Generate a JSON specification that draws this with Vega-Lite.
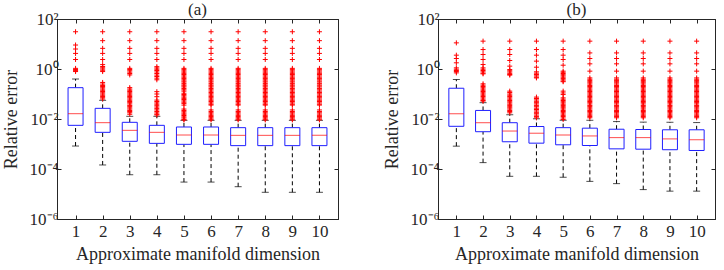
{
"$schema":"https://vega.github.io/schema/vega-lite/v6.json",
"background":"white",
"padding":{"left":1,"top":0,"right":0,"bottom":0},
"spacing":43,
"config":{
"font":"Liberation Serif",
"view":{"stroke":"#262626","strokeWidth":1},
"axis":{"labelFont":"Liberation Serif","titleFont":"Liberation Serif","labelFontSize":17,"titleFontSize":18,"titleFontWeight":"normal","labelColor":"#262626","titleColor":"#262626","domainColor":"#262626","tickColor":"#262626","grid":false,"labelFlush":false,"labelOverlap":false},
"title":{"font":"Liberation Serif","fontSize":17,"fontWeight":"normal","color":"#262626","offset":-9}
},
"datasets":{
"boxes":[
{"panel":"a","dim":1,"lo":0.00083,"q1":0.00558,"med":0.0163,"q3":0.179,"hi":0.398},
{"panel":"a","dim":2,"lo":0.000145,"q1":0.00293,"med":0.00713,"q3":0.0267,"hi":0.0559},
{"panel":"a","dim":3,"lo":0.000059,"q1":0.00128,"med":0.00352,"q3":0.00736,"hi":0.0128},
{"panel":"a","dim":4,"lo":0.000059,"q1":0.00106,"med":0.00293,"q3":0.00558,"hi":0.0128},
{"panel":"a","dim":5,"lo":0.00003,"q1":0.00097,"med":0.00229,"q3":0.00479,"hi":0.00885},
{"panel":"a","dim":6,"lo":0.00003,"q1":0.00097,"med":0.00229,"q3":0.00479,"hi":0.00885},
{"panel":"a","dim":7,"lo":0.0000196,"q1":0.00086,"med":0.00222,"q3":0.0045,"hi":0.00885},
{"panel":"a","dim":8,"lo":0.0000117,"q1":0.00086,"med":0.00222,"q3":0.0045,"hi":0.00885},
{"panel":"a","dim":9,"lo":0.0000117,"q1":0.00086,"med":0.00222,"q3":0.0045,"hi":0.00885},
{"panel":"a","dim":10,"lo":0.0000117,"q1":0.00086,"med":0.00222,"q3":0.0045,"hi":0.00885},
{"panel":"b","dim":1,"lo":0.00082,"q1":0.0051,"med":0.0162,"q3":0.17,"hi":0.38},
{"panel":"b","dim":2,"lo":0.00018,"q1":0.0031,"med":0.0071,"q3":0.022,"hi":0.045},
{"panel":"b","dim":3,"lo":0.000051,"q1":0.00123,"med":0.0033,"q3":0.0071,"hi":0.0148},
{"panel":"b","dim":4,"lo":0.000051,"q1":0.00108,"med":0.0027,"q3":0.005,"hi":0.0102},
{"panel":"b","dim":5,"lo":0.000047,"q1":0.00093,"med":0.0023,"q3":0.0045,"hi":0.0089},
{"panel":"b","dim":6,"lo":0.000032,"q1":0.00087,"med":0.0021,"q3":0.0043,"hi":0.0089},
{"panel":"b","dim":7,"lo":0.000026,"q1":0.00064,"med":0.0018,"q3":0.0039,"hi":0.0079},
{"panel":"b","dim":8,"lo":0.000015,"q1":0.00062,"med":0.0018,"q3":0.0038,"hi":0.0075},
{"panel":"b","dim":9,"lo":0.000013,"q1":0.00059,"med":0.0016,"q3":0.0037,"hi":0.0074},
{"panel":"b","dim":10,"lo":0.000013,"q1":0.00055,"med":0.00148,"q3":0.0037,"hi":0.0072}
],
"outliers":[
{"panel":"a","dim":1,"error":30.9},{"panel":"a","dim":1,"error":9.1},{"panel":"a","dim":1,"error":6.3},{"panel":"a","dim":1,"error":4.2},{"panel":"a","dim":1,"error":2.4},{"panel":"a","dim":1,"error":1.06},{"panel":"a","dim":1,"error":0.95},{"panel":"a","dim":1,"error":0.89},{"panel":"a","dim":1,"error":0.84},{"panel":"a","dim":1,"error":0.79},
{"panel":"a","dim":2,"error":30.9},{"panel":"a","dim":2,"error":13.6},{"panel":"a","dim":2,"error":6.7},{"panel":"a","dim":2,"error":4.2},{"panel":"a","dim":2,"error":2.4},{"panel":"a","dim":2,"error":1.5},{"panel":"a","dim":2,"error":1.26},{"panel":"a","dim":2,"error":1.12},{"panel":"a","dim":2,"error":1},{"panel":"a","dim":2,"error":0.89},{"panel":"a","dim":2,"error":0.79},{"panel":"a","dim":2,"error":0.29},{"panel":"a","dim":2,"error":0.25},{"panel":"a","dim":2,"error":0.22},{"panel":"a","dim":2,"error":0.2},{"panel":"a","dim":2,"error":0.178},{"panel":"a","dim":2,"error":0.158},{"panel":"a","dim":2,"error":0.141},{"panel":"a","dim":2,"error":0.126},{"panel":"a","dim":2,"error":0.112},{"panel":"a","dim":2,"error":0.1},{"panel":"a","dim":2,"error":0.089},{"panel":"a","dim":2,"error":0.079},{"panel":"a","dim":2,"error":0.071},{"panel":"a","dim":2,"error":0.063},
{"panel":"a","dim":3,"error":30.9},{"panel":"a","dim":3,"error":13.6},{"panel":"a","dim":3,"error":6.7},{"panel":"a","dim":3,"error":4.2},{"panel":"a","dim":3,"error":2.4},{"panel":"a","dim":3,"error":1.06},{"panel":"a","dim":3,"error":0.95},{"panel":"a","dim":3,"error":0.85},{"panel":"a","dim":3,"error":0.75},{"panel":"a","dim":3,"error":0.66},{"panel":"a","dim":3,"error":0.58},{"panel":"a","dim":3,"error":0.18},{"panel":"a","dim":3,"error":0.158},{"panel":"a","dim":3,"error":0.141},{"panel":"a","dim":3,"error":0.126},{"panel":"a","dim":3,"error":0.112},{"panel":"a","dim":3,"error":0.1},{"panel":"a","dim":3,"error":0.089},{"panel":"a","dim":3,"error":0.079},{"panel":"a","dim":3,"error":0.071},{"panel":"a","dim":3,"error":0.063},{"panel":"a","dim":3,"error":0.056},{"panel":"a","dim":3,"error":0.05},{"panel":"a","dim":3,"error":0.045},{"panel":"a","dim":3,"error":0.04},{"panel":"a","dim":3,"error":0.035},{"panel":"a","dim":3,"error":0.032},{"panel":"a","dim":3,"error":0.028},{"panel":"a","dim":3,"error":0.025},{"panel":"a","dim":3,"error":0.022},{"panel":"a","dim":3,"error":0.02},{"panel":"a","dim":3,"error":0.0178},{"panel":"a","dim":3,"error":0.0155},
{"panel":"a","dim":4,"error":30.9},{"panel":"a","dim":4,"error":13.6},{"panel":"a","dim":4,"error":6.7},{"panel":"a","dim":4,"error":4.2},{"panel":"a","dim":4,"error":2.4},{"panel":"a","dim":4,"error":1.24},{"panel":"a","dim":4,"error":1.1},{"panel":"a","dim":4,"error":0.98},{"panel":"a","dim":4,"error":0.87},{"panel":"a","dim":4,"error":0.76},{"panel":"a","dim":4,"error":0.66},{"panel":"a","dim":4,"error":0.57},{"panel":"a","dim":4,"error":0.5},{"panel":"a","dim":4,"error":0.43},{"panel":"a","dim":4,"error":0.37},{"panel":"a","dim":4,"error":0.124},{"panel":"a","dim":4,"error":0.1},{"panel":"a","dim":4,"error":0.078},{"panel":"a","dim":4,"error":0.057},{"panel":"a","dim":4,"error":0.05},{"panel":"a","dim":4,"error":0.044},{"panel":"a","dim":4,"error":0.039},{"panel":"a","dim":4,"error":0.034},{"panel":"a","dim":4,"error":0.03},{"panel":"a","dim":4,"error":0.026},{"panel":"a","dim":4,"error":0.023},{"panel":"a","dim":4,"error":0.02},{"panel":"a","dim":4,"error":0.0175},{"panel":"a","dim":4,"error":0.0155},{"panel":"a","dim":4,"error":0.0145},
{"panel":"a","dim":5,"error":30.9},{"panel":"a","dim":5,"error":13.6},{"panel":"a","dim":5,"error":6.7},{"panel":"a","dim":5,"error":4.2},{"panel":"a","dim":5,"error":2.4},{"panel":"a","dim":5,"error":1.06},{"panel":"a","dim":5,"error":0.94},{"panel":"a","dim":5,"error":0.84},{"panel":"a","dim":5,"error":0.75},{"panel":"a","dim":5,"error":0.67},{"panel":"a","dim":5,"error":0.6},{"panel":"a","dim":5,"error":0.53},{"panel":"a","dim":5,"error":0.47},{"panel":"a","dim":5,"error":0.42},{"panel":"a","dim":5,"error":0.37},{"panel":"a","dim":5,"error":0.33},{"panel":"a","dim":5,"error":0.3},{"panel":"a","dim":5,"error":0.26},{"panel":"a","dim":5,"error":0.23},{"panel":"a","dim":5,"error":0.21},{"panel":"a","dim":5,"error":0.19},{"panel":"a","dim":5,"error":0.165},{"panel":"a","dim":5,"error":0.147},{"panel":"a","dim":5,"error":0.13},{"panel":"a","dim":5,"error":0.107},{"panel":"a","dim":5,"error":0.095},{"panel":"a","dim":5,"error":0.085},{"panel":"a","dim":5,"error":0.075},{"panel":"a","dim":5,"error":0.067},{"panel":"a","dim":5,"error":0.06},{"panel":"a","dim":5,"error":0.053},{"panel":"a","dim":5,"error":0.047},{"panel":"a","dim":5,"error":0.042},{"panel":"a","dim":5,"error":0.036},{"panel":"a","dim":5,"error":0.025},{"panel":"a","dim":5,"error":0.022},{"panel":"a","dim":5,"error":0.0195},{"panel":"a","dim":5,"error":0.0173},{"panel":"a","dim":5,"error":0.0155},{"panel":"a","dim":5,"error":0.0138},{"panel":"a","dim":5,"error":0.0122},{"panel":"a","dim":5,"error":0.011},{"panel":"a","dim":5,"error":0.0097},{"panel":"a","dim":5,"error":0.0091},
{"panel":"a","dim":6,"error":30.9},{"panel":"a","dim":6,"error":13.6},{"panel":"a","dim":6,"error":6.7},{"panel":"a","dim":6,"error":4.2},{"panel":"a","dim":6,"error":2.4},{"panel":"a","dim":6,"error":1.06},{"panel":"a","dim":6,"error":0.94},{"panel":"a","dim":6,"error":0.84},{"panel":"a","dim":6,"error":0.75},{"panel":"a","dim":6,"error":0.67},{"panel":"a","dim":6,"error":0.6},{"panel":"a","dim":6,"error":0.53},{"panel":"a","dim":6,"error":0.47},{"panel":"a","dim":6,"error":0.42},{"panel":"a","dim":6,"error":0.37},{"panel":"a","dim":6,"error":0.33},{"panel":"a","dim":6,"error":0.3},{"panel":"a","dim":6,"error":0.26},{"panel":"a","dim":6,"error":0.23},{"panel":"a","dim":6,"error":0.21},{"panel":"a","dim":6,"error":0.19},{"panel":"a","dim":6,"error":0.165},{"panel":"a","dim":6,"error":0.147},{"panel":"a","dim":6,"error":0.13},{"panel":"a","dim":6,"error":0.115},{"panel":"a","dim":6,"error":0.102},{"panel":"a","dim":6,"error":0.09},{"panel":"a","dim":6,"error":0.08},{"panel":"a","dim":6,"error":0.071},{"panel":"a","dim":6,"error":0.063},{"panel":"a","dim":6,"error":0.056},{"panel":"a","dim":6,"error":0.05},{"panel":"a","dim":6,"error":0.044},{"panel":"a","dim":6,"error":0.039},{"panel":"a","dim":6,"error":0.036},{"panel":"a","dim":6,"error":0.023},{"panel":"a","dim":6,"error":0.02},{"panel":"a","dim":6,"error":0.0178},{"panel":"a","dim":6,"error":0.0158},{"panel":"a","dim":6,"error":0.014},{"panel":"a","dim":6,"error":0.0125},{"panel":"a","dim":6,"error":0.0112},{"panel":"a","dim":6,"error":0.01},{"panel":"a","dim":6,"error":0.0092},
{"panel":"a","dim":7,"error":30.9},{"panel":"a","dim":7,"error":13.6},{"panel":"a","dim":7,"error":6.7},{"panel":"a","dim":7,"error":4.2},{"panel":"a","dim":7,"error":2.4},{"panel":"a","dim":7,"error":1.06},{"panel":"a","dim":7,"error":0.94},{"panel":"a","dim":7,"error":0.84},{"panel":"a","dim":7,"error":0.75},{"panel":"a","dim":7,"error":0.67},{"panel":"a","dim":7,"error":0.6},{"panel":"a","dim":7,"error":0.53},{"panel":"a","dim":7,"error":0.47},{"panel":"a","dim":7,"error":0.42},{"panel":"a","dim":7,"error":0.37},{"panel":"a","dim":7,"error":0.33},{"panel":"a","dim":7,"error":0.3},{"panel":"a","dim":7,"error":0.26},{"panel":"a","dim":7,"error":0.23},{"panel":"a","dim":7,"error":0.21},{"panel":"a","dim":7,"error":0.19},{"panel":"a","dim":7,"error":0.165},{"panel":"a","dim":7,"error":0.147},{"panel":"a","dim":7,"error":0.13},{"panel":"a","dim":7,"error":0.115},{"panel":"a","dim":7,"error":0.102},{"panel":"a","dim":7,"error":0.09},{"panel":"a","dim":7,"error":0.08},{"panel":"a","dim":7,"error":0.071},{"panel":"a","dim":7,"error":0.063},{"panel":"a","dim":7,"error":0.056},{"panel":"a","dim":7,"error":0.05},{"panel":"a","dim":7,"error":0.044},{"panel":"a","dim":7,"error":0.039},{"panel":"a","dim":7,"error":0.036},{"panel":"a","dim":7,"error":0.023},{"panel":"a","dim":7,"error":0.02},{"panel":"a","dim":7,"error":0.0178},{"panel":"a","dim":7,"error":0.0158},{"panel":"a","dim":7,"error":0.014},{"panel":"a","dim":7,"error":0.0125},{"panel":"a","dim":7,"error":0.0112},{"panel":"a","dim":7,"error":0.01},{"panel":"a","dim":7,"error":0.0092},
{"panel":"a","dim":8,"error":30.9},{"panel":"a","dim":8,"error":13.6},{"panel":"a","dim":8,"error":6.7},{"panel":"a","dim":8,"error":4.2},{"panel":"a","dim":8,"error":2.4},{"panel":"a","dim":8,"error":1.06},{"panel":"a","dim":8,"error":0.94},{"panel":"a","dim":8,"error":0.84},{"panel":"a","dim":8,"error":0.75},{"panel":"a","dim":8,"error":0.67},{"panel":"a","dim":8,"error":0.6},{"panel":"a","dim":8,"error":0.53},{"panel":"a","dim":8,"error":0.47},{"panel":"a","dim":8,"error":0.42},{"panel":"a","dim":8,"error":0.37},{"panel":"a","dim":8,"error":0.33},{"panel":"a","dim":8,"error":0.3},{"panel":"a","dim":8,"error":0.26},{"panel":"a","dim":8,"error":0.23},{"panel":"a","dim":8,"error":0.21},{"panel":"a","dim":8,"error":0.19},{"panel":"a","dim":8,"error":0.165},{"panel":"a","dim":8,"error":0.147},{"panel":"a","dim":8,"error":0.13},{"panel":"a","dim":8,"error":0.115},{"panel":"a","dim":8,"error":0.102},{"panel":"a","dim":8,"error":0.09},{"panel":"a","dim":8,"error":0.08},{"panel":"a","dim":8,"error":0.071},{"panel":"a","dim":8,"error":0.063},{"panel":"a","dim":8,"error":0.056},{"panel":"a","dim":8,"error":0.05},{"panel":"a","dim":8,"error":0.044},{"panel":"a","dim":8,"error":0.039},{"panel":"a","dim":8,"error":0.036},{"panel":"a","dim":8,"error":0.023},{"panel":"a","dim":8,"error":0.02},{"panel":"a","dim":8,"error":0.0178},{"panel":"a","dim":8,"error":0.0158},{"panel":"a","dim":8,"error":0.014},{"panel":"a","dim":8,"error":0.0125},{"panel":"a","dim":8,"error":0.0112},{"panel":"a","dim":8,"error":0.01},{"panel":"a","dim":8,"error":0.0092},
{"panel":"a","dim":9,"error":30.9},{"panel":"a","dim":9,"error":13.6},{"panel":"a","dim":9,"error":6.7},{"panel":"a","dim":9,"error":4.2},{"panel":"a","dim":9,"error":2.4},{"panel":"a","dim":9,"error":1.06},{"panel":"a","dim":9,"error":0.94},{"panel":"a","dim":9,"error":0.84},{"panel":"a","dim":9,"error":0.75},{"panel":"a","dim":9,"error":0.67},{"panel":"a","dim":9,"error":0.6},{"panel":"a","dim":9,"error":0.53},{"panel":"a","dim":9,"error":0.47},{"panel":"a","dim":9,"error":0.42},{"panel":"a","dim":9,"error":0.37},{"panel":"a","dim":9,"error":0.33},{"panel":"a","dim":9,"error":0.3},{"panel":"a","dim":9,"error":0.26},{"panel":"a","dim":9,"error":0.23},{"panel":"a","dim":9,"error":0.21},{"panel":"a","dim":9,"error":0.19},{"panel":"a","dim":9,"error":0.165},{"panel":"a","dim":9,"error":0.147},{"panel":"a","dim":9,"error":0.13},{"panel":"a","dim":9,"error":0.115},{"panel":"a","dim":9,"error":0.102},{"panel":"a","dim":9,"error":0.09},{"panel":"a","dim":9,"error":0.08},{"panel":"a","dim":9,"error":0.071},{"panel":"a","dim":9,"error":0.063},{"panel":"a","dim":9,"error":0.056},{"panel":"a","dim":9,"error":0.05},{"panel":"a","dim":9,"error":0.044},{"panel":"a","dim":9,"error":0.039},{"panel":"a","dim":9,"error":0.036},{"panel":"a","dim":9,"error":0.023},{"panel":"a","dim":9,"error":0.02},{"panel":"a","dim":9,"error":0.0178},{"panel":"a","dim":9,"error":0.0158},{"panel":"a","dim":9,"error":0.014},{"panel":"a","dim":9,"error":0.0125},{"panel":"a","dim":9,"error":0.0112},{"panel":"a","dim":9,"error":0.01},{"panel":"a","dim":9,"error":0.0092},
{"panel":"a","dim":10,"error":30.9},{"panel":"a","dim":10,"error":13.6},{"panel":"a","dim":10,"error":6.7},{"panel":"a","dim":10,"error":4.2},{"panel":"a","dim":10,"error":2.4},{"panel":"a","dim":10,"error":1.06},{"panel":"a","dim":10,"error":0.94},{"panel":"a","dim":10,"error":0.84},{"panel":"a","dim":10,"error":0.75},{"panel":"a","dim":10,"error":0.67},{"panel":"a","dim":10,"error":0.6},{"panel":"a","dim":10,"error":0.53},{"panel":"a","dim":10,"error":0.47},{"panel":"a","dim":10,"error":0.42},{"panel":"a","dim":10,"error":0.37},{"panel":"a","dim":10,"error":0.33},{"panel":"a","dim":10,"error":0.3},{"panel":"a","dim":10,"error":0.26},{"panel":"a","dim":10,"error":0.23},{"panel":"a","dim":10,"error":0.21},{"panel":"a","dim":10,"error":0.19},{"panel":"a","dim":10,"error":0.165},{"panel":"a","dim":10,"error":0.147},{"panel":"a","dim":10,"error":0.13},{"panel":"a","dim":10,"error":0.115},{"panel":"a","dim":10,"error":0.102},{"panel":"a","dim":10,"error":0.09},{"panel":"a","dim":10,"error":0.08},{"panel":"a","dim":10,"error":0.071},{"panel":"a","dim":10,"error":0.063},{"panel":"a","dim":10,"error":0.056},{"panel":"a","dim":10,"error":0.05},{"panel":"a","dim":10,"error":0.044},{"panel":"a","dim":10,"error":0.039},{"panel":"a","dim":10,"error":0.036},{"panel":"a","dim":10,"error":0.023},{"panel":"a","dim":10,"error":0.02},{"panel":"a","dim":10,"error":0.0178},{"panel":"a","dim":10,"error":0.0158},{"panel":"a","dim":10,"error":0.014},{"panel":"a","dim":10,"error":0.0125},{"panel":"a","dim":10,"error":0.0112},{"panel":"a","dim":10,"error":0.01},{"panel":"a","dim":10,"error":0.0092},
{"panel":"b","dim":1,"error":11.1},{"panel":"b","dim":1,"error":3.57},{"panel":"b","dim":1,"error":2.63},{"panel":"b","dim":1,"error":1.77},{"panel":"b","dim":1,"error":1.11},{"panel":"b","dim":1,"error":0.98},{"panel":"b","dim":1,"error":0.87},{"panel":"b","dim":1,"error":0.79},{"panel":"b","dim":1,"error":0.7},
{"panel":"b","dim":2,"error":13},{"panel":"b","dim":2,"error":6},{"panel":"b","dim":2,"error":3.8},{"panel":"b","dim":2,"error":2.4},{"panel":"b","dim":2,"error":1.51},{"panel":"b","dim":2,"error":1.11},{"panel":"b","dim":2,"error":0.98},{"panel":"b","dim":2,"error":0.87},{"panel":"b","dim":2,"error":0.77},{"panel":"b","dim":2,"error":0.68},{"panel":"b","dim":2,"error":0.64},{"panel":"b","dim":2,"error":0.255},{"panel":"b","dim":2,"error":0.225},{"panel":"b","dim":2,"error":0.2},{"panel":"b","dim":2,"error":0.178},{"panel":"b","dim":2,"error":0.158},{"panel":"b","dim":2,"error":0.141},{"panel":"b","dim":2,"error":0.126},{"panel":"b","dim":2,"error":0.112},{"panel":"b","dim":2,"error":0.1},{"panel":"b","dim":2,"error":0.089},{"panel":"b","dim":2,"error":0.079},{"panel":"b","dim":2,"error":0.07},{"panel":"b","dim":2,"error":0.062},{"panel":"b","dim":2,"error":0.055},{"panel":"b","dim":2,"error":0.052},
{"panel":"b","dim":3,"error":13},{"panel":"b","dim":3,"error":6},{"panel":"b","dim":3,"error":3.8},{"panel":"b","dim":3,"error":2.19},{"panel":"b","dim":3,"error":1.3},{"panel":"b","dim":3,"error":0.95},{"panel":"b","dim":3,"error":0.85},{"panel":"b","dim":3,"error":0.76},{"panel":"b","dim":3,"error":0.67},{"panel":"b","dim":3,"error":0.6},{"panel":"b","dim":3,"error":0.57},{"panel":"b","dim":3,"error":0.13},{"panel":"b","dim":3,"error":0.115},{"panel":"b","dim":3,"error":0.1},{"panel":"b","dim":3,"error":0.089},{"panel":"b","dim":3,"error":0.079},{"panel":"b","dim":3,"error":0.07},{"panel":"b","dim":3,"error":0.062},{"panel":"b","dim":3,"error":0.055},{"panel":"b","dim":3,"error":0.049},{"panel":"b","dim":3,"error":0.044},{"panel":"b","dim":3,"error":0.039},{"panel":"b","dim":3,"error":0.035},{"panel":"b","dim":3,"error":0.031},{"panel":"b","dim":3,"error":0.028},{"panel":"b","dim":3,"error":0.025},{"panel":"b","dim":3,"error":0.022},{"panel":"b","dim":3,"error":0.02},{"panel":"b","dim":3,"error":0.0177},
{"panel":"b","dim":4,"error":13},{"panel":"b","dim":4,"error":6},{"panel":"b","dim":4,"error":3.57},{"panel":"b","dim":4,"error":2.06},{"panel":"b","dim":4,"error":1.18},{"panel":"b","dim":4,"error":0.77},{"panel":"b","dim":4,"error":0.68},{"panel":"b","dim":4,"error":0.6},{"panel":"b","dim":4,"error":0.53},{"panel":"b","dim":4,"error":0.47},{"panel":"b","dim":4,"error":0.44},{"panel":"b","dim":4,"error":0.075},{"panel":"b","dim":4,"error":0.066},{"panel":"b","dim":4,"error":0.058},{"panel":"b","dim":4,"error":0.051},{"panel":"b","dim":4,"error":0.045},{"panel":"b","dim":4,"error":0.04},{"panel":"b","dim":4,"error":0.035},{"panel":"b","dim":4,"error":0.031},{"panel":"b","dim":4,"error":0.027},{"panel":"b","dim":4,"error":0.024},{"panel":"b","dim":4,"error":0.021},{"panel":"b","dim":4,"error":0.0185},{"panel":"b","dim":4,"error":0.0163},{"panel":"b","dim":4,"error":0.0143},{"panel":"b","dim":4,"error":0.0125},{"panel":"b","dim":4,"error":0.0111},
{"panel":"b","dim":5,"error":13},{"panel":"b","dim":5,"error":6},{"panel":"b","dim":5,"error":3.57},{"panel":"b","dim":5,"error":2.4},{"panel":"b","dim":5,"error":1.42},{"panel":"b","dim":5,"error":0.82},{"panel":"b","dim":5,"error":0.74},{"panel":"b","dim":5,"error":0.66},{"panel":"b","dim":5,"error":0.59},{"panel":"b","dim":5,"error":0.53},{"panel":"b","dim":5,"error":0.47},{"panel":"b","dim":5,"error":0.42},{"panel":"b","dim":5,"error":0.37},{"panel":"b","dim":5,"error":0.33},{"panel":"b","dim":5,"error":0.31},{"panel":"b","dim":5,"error":0.13},{"panel":"b","dim":5,"error":0.11},{"panel":"b","dim":5,"error":0.095},{"panel":"b","dim":5,"error":0.07},{"panel":"b","dim":5,"error":0.062},{"panel":"b","dim":5,"error":0.055},{"panel":"b","dim":5,"error":0.049},{"panel":"b","dim":5,"error":0.044},{"panel":"b","dim":5,"error":0.039},{"panel":"b","dim":5,"error":0.035},{"panel":"b","dim":5,"error":0.031},{"panel":"b","dim":5,"error":0.028},{"panel":"b","dim":5,"error":0.025},{"panel":"b","dim":5,"error":0.022},{"panel":"b","dim":5,"error":0.02},{"panel":"b","dim":5,"error":0.0178},{"panel":"b","dim":5,"error":0.0158},{"panel":"b","dim":5,"error":0.014},{"panel":"b","dim":5,"error":0.0125},{"panel":"b","dim":5,"error":0.011},{"panel":"b","dim":5,"error":0.0096},
{"panel":"b","dim":6,"error":13},{"panel":"b","dim":6,"error":4.4},{"panel":"b","dim":6,"error":2.63},{"panel":"b","dim":6,"error":1.61},{"panel":"b","dim":6,"error":0.82},{"panel":"b","dim":6,"error":0.44},{"panel":"b","dim":6,"error":0.39},{"panel":"b","dim":6,"error":0.35},{"panel":"b","dim":6,"error":0.31},{"panel":"b","dim":6,"error":0.28},{"panel":"b","dim":6,"error":0.25},{"panel":"b","dim":6,"error":0.22},{"panel":"b","dim":6,"error":0.2},{"panel":"b","dim":6,"error":0.178},{"panel":"b","dim":6,"error":0.158},{"panel":"b","dim":6,"error":0.141},{"panel":"b","dim":6,"error":0.126},{"panel":"b","dim":6,"error":0.112},{"panel":"b","dim":6,"error":0.1},{"panel":"b","dim":6,"error":0.089},{"panel":"b","dim":6,"error":0.079},{"panel":"b","dim":6,"error":0.071},{"panel":"b","dim":6,"error":0.063},{"panel":"b","dim":6,"error":0.056},{"panel":"b","dim":6,"error":0.05},{"panel":"b","dim":6,"error":0.045},{"panel":"b","dim":6,"error":0.04},{"panel":"b","dim":6,"error":0.035},{"panel":"b","dim":6,"error":0.032},{"panel":"b","dim":6,"error":0.028},{"panel":"b","dim":6,"error":0.025},{"panel":"b","dim":6,"error":0.022},{"panel":"b","dim":6,"error":0.02},{"panel":"b","dim":6,"error":0.0178},{"panel":"b","dim":6,"error":0.0158},{"panel":"b","dim":6,"error":0.0141},{"panel":"b","dim":6,"error":0.0125},{"panel":"b","dim":6,"error":0.0112},
{"panel":"b","dim":7,"error":13},{"panel":"b","dim":7,"error":4.4},{"panel":"b","dim":7,"error":2.63},{"panel":"b","dim":7,"error":1.61},{"panel":"b","dim":7,"error":0.82},{"panel":"b","dim":7,"error":0.44},{"panel":"b","dim":7,"error":0.39},{"panel":"b","dim":7,"error":0.35},{"panel":"b","dim":7,"error":0.31},{"panel":"b","dim":7,"error":0.28},{"panel":"b","dim":7,"error":0.25},{"panel":"b","dim":7,"error":0.22},{"panel":"b","dim":7,"error":0.2},{"panel":"b","dim":7,"error":0.178},{"panel":"b","dim":7,"error":0.158},{"panel":"b","dim":7,"error":0.141},{"panel":"b","dim":7,"error":0.126},{"panel":"b","dim":7,"error":0.112},{"panel":"b","dim":7,"error":0.1},{"panel":"b","dim":7,"error":0.089},{"panel":"b","dim":7,"error":0.079},{"panel":"b","dim":7,"error":0.071},{"panel":"b","dim":7,"error":0.063},{"panel":"b","dim":7,"error":0.056},{"panel":"b","dim":7,"error":0.05},{"panel":"b","dim":7,"error":0.045},{"panel":"b","dim":7,"error":0.04},{"panel":"b","dim":7,"error":0.035},{"panel":"b","dim":7,"error":0.032},{"panel":"b","dim":7,"error":0.028},{"panel":"b","dim":7,"error":0.025},{"panel":"b","dim":7,"error":0.022},{"panel":"b","dim":7,"error":0.02},{"panel":"b","dim":7,"error":0.0178},{"panel":"b","dim":7,"error":0.0158},{"panel":"b","dim":7,"error":0.0141},{"panel":"b","dim":7,"error":0.0125},{"panel":"b","dim":7,"error":0.0112},
{"panel":"b","dim":8,"error":13},{"panel":"b","dim":8,"error":4.4},{"panel":"b","dim":8,"error":2.63},{"panel":"b","dim":8,"error":1.61},{"panel":"b","dim":8,"error":0.82},{"panel":"b","dim":8,"error":0.44},{"panel":"b","dim":8,"error":0.39},{"panel":"b","dim":8,"error":0.35},{"panel":"b","dim":8,"error":0.31},{"panel":"b","dim":8,"error":0.28},{"panel":"b","dim":8,"error":0.25},{"panel":"b","dim":8,"error":0.22},{"panel":"b","dim":8,"error":0.2},{"panel":"b","dim":8,"error":0.178},{"panel":"b","dim":8,"error":0.158},{"panel":"b","dim":8,"error":0.141},{"panel":"b","dim":8,"error":0.126},{"panel":"b","dim":8,"error":0.112},{"panel":"b","dim":8,"error":0.1},{"panel":"b","dim":8,"error":0.089},{"panel":"b","dim":8,"error":0.079},{"panel":"b","dim":8,"error":0.071},{"panel":"b","dim":8,"error":0.063},{"panel":"b","dim":8,"error":0.056},{"panel":"b","dim":8,"error":0.05},{"panel":"b","dim":8,"error":0.045},{"panel":"b","dim":8,"error":0.04},{"panel":"b","dim":8,"error":0.035},{"panel":"b","dim":8,"error":0.032},{"panel":"b","dim":8,"error":0.028},{"panel":"b","dim":8,"error":0.025},{"panel":"b","dim":8,"error":0.022},{"panel":"b","dim":8,"error":0.02},{"panel":"b","dim":8,"error":0.0178},{"panel":"b","dim":8,"error":0.0158},{"panel":"b","dim":8,"error":0.0141},{"panel":"b","dim":8,"error":0.0125},{"panel":"b","dim":8,"error":0.0112},
{"panel":"b","dim":9,"error":13},{"panel":"b","dim":9,"error":4.4},{"panel":"b","dim":9,"error":2.63},{"panel":"b","dim":9,"error":1.61},{"panel":"b","dim":9,"error":0.82},{"panel":"b","dim":9,"error":0.44},{"panel":"b","dim":9,"error":0.39},{"panel":"b","dim":9,"error":0.35},{"panel":"b","dim":9,"error":0.31},{"panel":"b","dim":9,"error":0.28},{"panel":"b","dim":9,"error":0.25},{"panel":"b","dim":9,"error":0.22},{"panel":"b","dim":9,"error":0.2},{"panel":"b","dim":9,"error":0.178},{"panel":"b","dim":9,"error":0.158},{"panel":"b","dim":9,"error":0.141},{"panel":"b","dim":9,"error":0.126},{"panel":"b","dim":9,"error":0.112},{"panel":"b","dim":9,"error":0.1},{"panel":"b","dim":9,"error":0.089},{"panel":"b","dim":9,"error":0.079},{"panel":"b","dim":9,"error":0.071},{"panel":"b","dim":9,"error":0.063},{"panel":"b","dim":9,"error":0.056},{"panel":"b","dim":9,"error":0.05},{"panel":"b","dim":9,"error":0.045},{"panel":"b","dim":9,"error":0.04},{"panel":"b","dim":9,"error":0.035},{"panel":"b","dim":9,"error":0.032},{"panel":"b","dim":9,"error":0.028},{"panel":"b","dim":9,"error":0.025},{"panel":"b","dim":9,"error":0.022},{"panel":"b","dim":9,"error":0.02},{"panel":"b","dim":9,"error":0.0178},{"panel":"b","dim":9,"error":0.0158},{"panel":"b","dim":9,"error":0.0141},{"panel":"b","dim":9,"error":0.0125},{"panel":"b","dim":9,"error":0.0112},
{"panel":"b","dim":10,"error":13},{"panel":"b","dim":10,"error":4.4},{"panel":"b","dim":10,"error":2.63},{"panel":"b","dim":10,"error":1.61},{"panel":"b","dim":10,"error":0.82},{"panel":"b","dim":10,"error":0.44},{"panel":"b","dim":10,"error":0.39},{"panel":"b","dim":10,"error":0.35},{"panel":"b","dim":10,"error":0.31},{"panel":"b","dim":10,"error":0.28},{"panel":"b","dim":10,"error":0.25},{"panel":"b","dim":10,"error":0.22},{"panel":"b","dim":10,"error":0.2},{"panel":"b","dim":10,"error":0.178},{"panel":"b","dim":10,"error":0.158},{"panel":"b","dim":10,"error":0.141},{"panel":"b","dim":10,"error":0.126},{"panel":"b","dim":10,"error":0.112},{"panel":"b","dim":10,"error":0.1},{"panel":"b","dim":10,"error":0.089},{"panel":"b","dim":10,"error":0.079},{"panel":"b","dim":10,"error":0.071},{"panel":"b","dim":10,"error":0.063},{"panel":"b","dim":10,"error":0.056},{"panel":"b","dim":10,"error":0.05},{"panel":"b","dim":10,"error":0.045},{"panel":"b","dim":10,"error":0.04},{"panel":"b","dim":10,"error":0.035},{"panel":"b","dim":10,"error":0.032},{"panel":"b","dim":10,"error":0.028},{"panel":"b","dim":10,"error":0.025},{"panel":"b","dim":10,"error":0.022},{"panel":"b","dim":10,"error":0.02},{"panel":"b","dim":10,"error":0.0178},{"panel":"b","dim":10,"error":0.0158},{"panel":"b","dim":10,"error":0.0141},{"panel":"b","dim":10,"error":0.0125},{"panel":"b","dim":10,"error":0.0112}
]
},
"hconcat":[
{
"title":"(a)",
"width":281,"height":200,
"resolve":{"axis":{"x":"independent","y":"independent"}},
"layer":[
{"data":{"name":"boxes"},"transform":[{"filter":"datum.panel==='a'"}],
"mark":{"type":"rule","color":"black","strokeDash":[4,3],"strokeWidth":1},
"encoding":{
"x":{"field":"dim","type":"quantitative","scale":{"domain":[0.5,10.5],"nice":false,"zero":false},"axis":{"orient":"bottom","values":[1,2,3,4,5,6,7,8,9,10],"tickSize":-4,"labelPadding":8,"minExtent":22,"maxExtent":22,"title":"Approximate manifold dimension","titlePadding":4}},
"y":{"field":"lo","type":"quantitative","scale":{"type":"log","domain":[0.000001,100],"nice":false},"axis":{"orient":"left","values":[0.000001,0.0001,0.01,1,100],"tickSize":-4,"labelPadding":3,"minExtent":31,"maxExtent":31,"labelExpr":"datum.value>=50?'10²':datum.value>=0.5?'10⁰':datum.value>=0.005?'10⁻²':datum.value>=0.00005?'10⁻⁴':'10⁻⁶'","title":"Relative error","titlePadding":6}},
"y2":{"field":"q1"}}},
{"data":{"name":"boxes"},"transform":[{"filter":"datum.panel==='a'"}],
"mark":{"type":"rule","color":"black","strokeDash":[4,3],"strokeWidth":1},
"encoding":{
"x":{"field":"dim","type":"quantitative","axis":{"orient":"top","values":[1,2,3,4,5,6,7,8,9,10],"tickSize":-4,"labels":false,"minExtent":0,"maxExtent":0,"title":null}},
"y":{"field":"q3","type":"quantitative","axis":{"orient":"right","values":[0.000001,0.0001,0.01,1,100],"tickSize":-4,"labels":false,"minExtent":0,"maxExtent":0,"title":null}},
"y2":{"field":"hi"}}},
{"data":{"name":"boxes"},"transform":[{"filter":"datum.panel==='a'"}],
"mark":{"type":"tick","color":"black","size":7,"thickness":1,"orient":"horizontal"},
"encoding":{"x":{"field":"dim","type":"quantitative","axis":null},"y":{"field":"lo","type":"quantitative","axis":null}}},
{"data":{"name":"boxes"},"transform":[{"filter":"datum.panel==='a'"}],
"mark":{"type":"tick","color":"black","size":7,"thickness":1,"orient":"horizontal"},
"encoding":{"x":{"field":"dim","type":"quantitative","axis":null},"y":{"field":"hi","type":"quantitative","axis":null}}},
{"data":{"name":"boxes"},"transform":[{"filter":"datum.panel==='a'"}],
"mark":{"type":"bar","width":15,"fill":"white","stroke":"#1f1fff","strokeWidth":1},
"encoding":{"x":{"field":"dim","type":"quantitative","axis":null},"y":{"field":"q1","type":"quantitative","axis":null},"y2":{"field":"q3"}}},
{"data":{"name":"boxes"},"transform":[{"filter":"datum.panel==='a'"}],
"mark":{"type":"tick","color":"#ff0000","size":15,"thickness":1,"orient":"horizontal"},
"encoding":{"x":{"field":"dim","type":"quantitative","axis":null},"y":{"field":"med","type":"quantitative","axis":null}}},
{"data":{"name":"outliers"},"transform":[{"filter":"datum.panel==='a'"}],
"mark":{"type":"point","shape":"M-1,0H1M0,-1V1","size":25,"filled":false,"stroke":"#ff0000","strokeWidth":1,"opacity":1},
"encoding":{"x":{"field":"dim","type":"quantitative","axis":null},"y":{"field":"error","type":"quantitative","axis":null}}}
]
},
{
"title":"(b)",
"width":277,"height":200,
"resolve":{"axis":{"x":"independent","y":"independent"}},
"layer":[
{"data":{"name":"boxes"},"transform":[{"filter":"datum.panel==='b'"}],
"mark":{"type":"rule","color":"black","strokeDash":[4,3],"strokeWidth":1},
"encoding":{
"x":{"field":"dim","type":"quantitative","scale":{"domain":[0.5,10.5],"nice":false,"zero":false},"axis":{"orient":"bottom","values":[1,2,3,4,5,6,7,8,9,10],"tickSize":-4,"labelPadding":8,"minExtent":22,"maxExtent":22,"title":"Approximate manifold dimension","titlePadding":4}},
"y":{"field":"lo","type":"quantitative","scale":{"type":"log","domain":[0.000001,100],"nice":false},"axis":{"orient":"left","values":[0.000001,0.0001,0.01,1,100],"tickSize":-4,"labelPadding":3,"minExtent":31,"maxExtent":31,"labelExpr":"datum.value>=50?'10²':datum.value>=0.5?'10⁰':datum.value>=0.005?'10⁻²':datum.value>=0.00005?'10⁻⁴':'10⁻⁶'","title":"Relative error","titlePadding":6}},
"y2":{"field":"q1"}}},
{"data":{"name":"boxes"},"transform":[{"filter":"datum.panel==='b'"}],
"mark":{"type":"rule","color":"black","strokeDash":[4,3],"strokeWidth":1},
"encoding":{
"x":{"field":"dim","type":"quantitative","axis":{"orient":"top","values":[1,2,3,4,5,6,7,8,9,10],"tickSize":-4,"labels":false,"minExtent":0,"maxExtent":0,"title":null}},
"y":{"field":"q3","type":"quantitative","axis":{"orient":"right","values":[0.000001,0.0001,0.01,1,100],"tickSize":-4,"labels":false,"minExtent":0,"maxExtent":0,"title":null}},
"y2":{"field":"hi"}}},
{"data":{"name":"boxes"},"transform":[{"filter":"datum.panel==='b'"}],
"mark":{"type":"tick","color":"black","size":7,"thickness":1,"orient":"horizontal"},
"encoding":{"x":{"field":"dim","type":"quantitative","axis":null},"y":{"field":"lo","type":"quantitative","axis":null}}},
{"data":{"name":"boxes"},"transform":[{"filter":"datum.panel==='b'"}],
"mark":{"type":"tick","color":"black","size":7,"thickness":1,"orient":"horizontal"},
"encoding":{"x":{"field":"dim","type":"quantitative","axis":null},"y":{"field":"hi","type":"quantitative","axis":null}}},
{"data":{"name":"boxes"},"transform":[{"filter":"datum.panel==='b'"}],
"mark":{"type":"bar","width":15,"fill":"white","stroke":"#1f1fff","strokeWidth":1},
"encoding":{"x":{"field":"dim","type":"quantitative","axis":null},"y":{"field":"q1","type":"quantitative","axis":null},"y2":{"field":"q3"}}},
{"data":{"name":"boxes"},"transform":[{"filter":"datum.panel==='b'"}],
"mark":{"type":"tick","color":"#ff0000","size":15,"thickness":1,"orient":"horizontal"},
"encoding":{"x":{"field":"dim","type":"quantitative","axis":null},"y":{"field":"med","type":"quantitative","axis":null}}},
{"data":{"name":"outliers"},"transform":[{"filter":"datum.panel==='b'"}],
"mark":{"type":"point","shape":"M-1,0H1M0,-1V1","size":25,"filled":false,"stroke":"#ff0000","strokeWidth":1,"opacity":1},
"encoding":{"x":{"field":"dim","type":"quantitative","axis":null},"y":{"field":"error","type":"quantitative","axis":null}}}
]
}
]
}
